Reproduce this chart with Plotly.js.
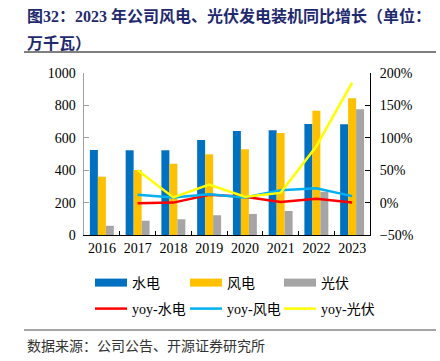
<!DOCTYPE html>
<html><head><meta charset="utf-8">
<script src="https://cdn.plot.ly/plotly-3.0.1.min.js"></script>
<style>html,body{margin:0;padding:0;background:#fff}#c{width:440px;height:361px}</style>
</head><body><div id="c"></div>
<script>
const years = ['2016','2017','2018','2019','2020','2021','2022','2023'];
const hydro = [525, 523, 523, 586, 642, 646, 685, 683];
const wind  = [360, 401, 440, 498, 529, 630, 767, 844];
const solar = [57, 88, 97, 122, 130, 148, 267, 776];
const yoyYears = ['2017','2018','2019','2020','2021','2022','2023'];
const yoyHydro = [-1, 0, 12, 9, 1, 6, 0];
const yoyWind  = [12, 8, 13, 8, 19, 22, 10];
const yoySolar = [50, 8, 28, 9, 15, 87, 185];
const names = ['水电','风电','光伏','yoy-水电','yoy-风电','yoy-光伏'];
const barColors = ['#0070C0','#FFC000','#A5A5A5'];
const lineColors = ['#FF0000','#00B0F0','#FFFF00'];

const serif = 'Liberation Serif, "Times New Roman", serif';
const cjk = 'Liberation Serif, "Noto Sans CJK SC", serif';
const legIds = ['legend','legend2','legend3','legend4','legend5','legend6'];

const traces = [];
// legend swatches for bars
[0,1,2].forEach(i => traces.push({type:'scatter', mode:'lines', x:[null], y:[null], name:names[i],
  line:{color:barColors[i], width:8}, showlegend:true, legend:legIds[i], hoverinfo:'skip'}));
[hydro, wind, solar].forEach((v,i) => traces.push({type:'bar', x:years, y:v, name:names[i],
  marker:{color:barColors[i]}, showlegend:false}));
[yoyHydro, yoyWind, yoySolar].forEach((v,i) => traces.push({type:'scatter', mode:'lines', x:yoyYears, y:v,
  yaxis:'y2', name:names[i+3], legend:legIds[i+3], line:{color:lineColors[i], width:2.5}}));

const colX = [90, 185, 279];
const rowY = [283, 309];
const legends = {};
legIds.forEach((id,k) => {
  legends[id] = {orientation:'h', xref:'container', yref:'container', xanchor:'left', yanchor:'middle',
    x: colX[k%3]/440, y: 1 - rowY[Math.floor(k/3)]/361, itemwidth:32,
    font:{family:cjk, size:14, color:'#000'}, bgcolor:'rgba(0,0,0,0)'};
});

const layout = Object.assign({
  width:440, height:361,
  margin:{l:84, r:70, t:73, b:126, autoexpand:false},
  paper_bgcolor:'#fff', plot_bgcolor:'#fff',
  barmode:'group', bargap:0.33, bargroupgap:0,
  font:{family:serif, size:14, color:'#000'},
  xaxis:{type:'category', categoryarray:years, showline:true, linecolor:'#000', linewidth:1, ticks:'inside', tickson:'boundaries',
    ticklen:4, tickcolor:'#000', showgrid:false, zeroline:false, tickangle:0, tickfont:{family:serif, size:14}},
  yaxis:{range:[0,1000], dtick:200, showline:true, linecolor:'#A0A0A0', linewidth:1.5, ticks:'inside', ticklen:5,
    tickcolor:'#A0A0A0', showgrid:false, zeroline:false, tickfont:{family:serif, size:14}, ticklabelstandoff:4},
  yaxis2:{overlaying:'y', side:'right', range:[-50,200], dtick:50, ticksuffix:'%', showline:true, linecolor:'#000',
    linewidth:1, ticks:'inside', ticklen:5, tickcolor:'#000', showgrid:false, zeroline:false,
    tickfont:{family:serif, size:14}, ticklabelstandoff:6},
  shapes:[
    {type:'line', xref:'paper', yref:'paper', x0:-60/286, x1:352/286, y0:1+21/162, y1:1+21/162, line:{color:'#000', width:1}},
    {type:'line', xref:'paper', yref:'paper', x0:-60/286, x1:352/286, y0:-95/162, y1:-95/162, line:{color:'#888', width:1.5}}
  ],
  annotations:[
    {xref:'paper', yref:'paper', x:-59/286, y:1+57/162, xanchor:'left', yanchor:'middle', showarrow:false,
     text:'<b>图32：2023 年公司风电、光伏发电装机同比增长（单位：</b>', font:{family:cjk, size:16, color:'#1F2A6E'}},
    {xref:'paper', yref:'paper', x:-59/286, y:1+30/162, xanchor:'left', yanchor:'middle', showarrow:false,
     text:'<b>万千瓦）</b>', font:{family:cjk, size:16, color:'#1F2A6E'}},
    {xref:'paper', yref:'paper', x:-59/286, y:-110/162, xanchor:'left', yanchor:'middle', showarrow:false,
     text:'数据来源：公司公告、开源证券研究所', font:{family:'"Noto Sans CJK SC", sans-serif', size:14, color:'#333'}}
  ]
}, legends);
Plotly.newPlot('c', traces, layout, {displayModeBar:false, staticPlot:true});
</script></body></html>
